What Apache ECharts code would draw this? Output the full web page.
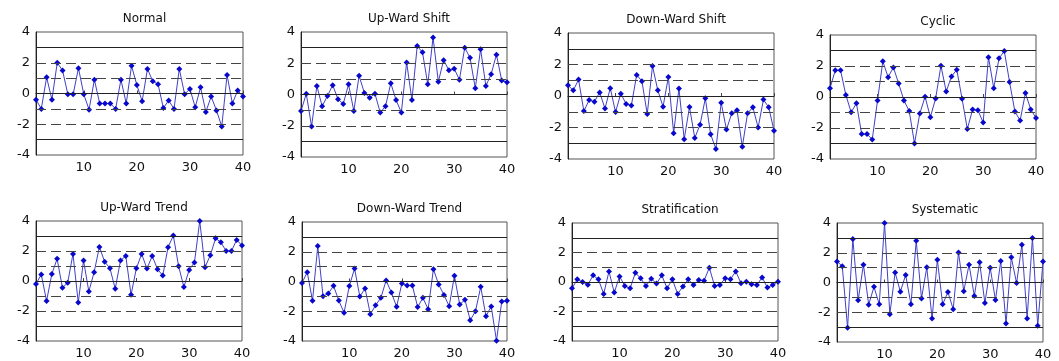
<!DOCTYPE html>
<html>
<head>
<meta charset="utf-8">
<script src="https://cdn.jsdelivr.net/npm/echarts@6/dist/echarts.min.js"></script>
<style>
  html, body { margin: 0; padding: 0; background: #fff; }
  #chart { width: 1059px; height: 361px; }
</style>
</head>
<body>
<div id="chart"></div>
<script>
// sample index 1..40
const samples = [1, 2, 3, 4, 5, 6, 7, 8, 9, 10, 11, 12, 13, 14, 15, 16, 17, 18, 19, 20,
  21, 22, 23, 24, 25, 26, 27, 28, 29, 30, 31, 32, 33, 34, 35, 36, 37, 38, 39, 40];
const xTickLabels = [10, 20, 30, 40];
const solidLines = [3, 0, -3];
const dashedLines = [2, 1, -1, -2];

const titles = ["Normal", "Up-Ward Shift", "Down-Ward Shift", "Cyclic",
  "Up-Ward Trend", "Down-Ward Trend", "Stratification", "Systematic"];

const normal = [-0.4, -1.0, 1.05, -0.4, 2.0, 1.5, -0.05, -0.05, 1.65, -0.05,
  -1.05, 0.9, -0.65, -0.65, -0.65, -1.0, 0.9, -0.65, 1.8, 0.55,
  -0.5, 1.6, 0.8, 0.6, -0.95, -0.45, -1.0, 1.6, -0.05, 0.3,
  -0.9, 0.4, -1.2, -0.2, -1.1, -2.15, 1.2, -0.65, 0.2, -0.2];
const upShift = [-1.06, 0.05, -2.05, 0.55, -0.75, -0.1, 0.6, -0.3, -0.6, 0.65,
  -1.05, 1.2, 0.1, -0.2, 0.05, -1.15, -0.75, 0.72, -0.35, -1.15,
  2.05, -0.35, 3.1, 2.7, 0.65, 3.65, 0.82, 2.2, 1.55, 1.65,
  0.95, 3.0, 2.35, 0.4, 2.9, 0.55, 1.3, 2.55, 0.9, 0.78];
const downShift = [0.68, 0.36, 1.04, -0.96, -0.26, -0.36, 0.23, -0.8, 0.5, -1.02,
  0.15, -0.5, -0.6, 1.34, 0.94, -1.15, 1.9, 0.36, -0.68, 1.2,
  -2.36, 0.47, -2.74, -0.7, -2.66, -1.83, -0.15, -2.43, -3.36, -0.43,
  -2.13, -1.1, -0.9, -3.23, -1.1, -0.72, -2.0, -0.23, -0.72, -2.2];
const cyclic = [0.57, 1.72, 1.72, 0.13, -0.98, -0.41, -2.39, -2.39, -2.74, -0.22,
  2.3, 1.28, 1.91, 0.87, -0.22, -0.91, -3.0, -1.07, 0.02, -1.3,
  -0.09, 2.02, 0.35, 1.33, 1.76, -0.11, -2.07, -0.8, -0.85, -1.65,
  2.57, 0.57, 2.5, 2.96, 0.96, -0.93, -1.52, 0.26, -0.8, -1.35];
const upTrend = [-0.2, 0.43, -1.33, 0.47, 1.48, -0.45, -0.11, 1.8, -1.44, 1.37,
  -0.7, 0.58, 2.27, 1.28, 0.85, -0.52, 1.37, 1.66, -0.92, 0.85,
  1.8, 0.83, 1.66, 0.79, 0.36, 2.25, 3.03, 0.98, -0.4, 0.74,
  1.24, 4.0, 0.92, 1.71, 2.85, 2.58, 2.0, 2.0, 2.74, 2.36];
const downTrend = [-0.1, 0.63, -1.3, 2.38, -0.99, -0.81, -0.29, -1.28, -2.1, -0.31,
  0.87, -1.01, -0.47, -2.2, -1.6, -1.1, 0.07, -0.74, -1.7, -0.13,
  -0.27, -0.27, -1.72, -1.1, -1.86, 0.83, -0.2, -0.9, -1.66, 0.38,
  -1.55, -1.23, -2.6, -2.0, -0.36, -2.33, -1.68, -3.98, -1.35, -1.3];
const stratification = [-0.43, 0.18, 0.0, -0.18, 0.45, 0.18, -0.81, 0.72, -0.72, 0.38,
  -0.27, -0.43, 0.63, 0.25, -0.27, 0.22, -0.11, 0.45, -0.43, 0.18,
  -0.81, -0.31, 0.18, -0.2, 0.13, 0.09, 0.97, -0.27, -0.2, 0.25,
  0.18, 0.72, -0.09, 0.02, -0.16, -0.2, 0.31, -0.38, -0.2, 0.02];
const systematic = [1.42, 1.09, -3.04, 2.93, -1.2, 1.2, -1.49, -0.29, -1.47, 4.0,
  -2.13, 0.67, -0.62, 0.51, -1.47, 2.8, -1.07, 1.02, -2.42, 1.53,
  -1.47, -0.64, -1.8, 2.02, -0.58, 1.2, -0.91, 1.36, -1.38, 1.0,
  -1.18, 1.44, -2.76, 1.69, -0.04, 2.53, -2.42, 3.0, -2.91, 1.42];

const panelData = [normal, upShift, downShift, cyclic, upTrend, downTrend, stratification, systematic];

// plot boxes in pixels: [left, top, width, height]
const boxes = [
  [36, 32, 207, 123], [301, 32, 206, 125], [568, 33, 206, 126], [830, 35, 206, 124],
  [36, 221, 206, 120], [302, 222, 205, 119], [572, 223, 206, 118], [837, 223, 206, 119]
];

const myChart = echarts.init(document.getElementById("chart"));
const font = "DejaVu Sans";

const grid = [], xAxis = [], yAxis = [], series = [], title = [];
boxes.forEach((b, i) => {
  grid.push({
    left: b[0], top: b[1], width: b[2], height: b[3],
    show: true, borderColor: "#555", borderWidth: 1, backgroundColor: "#fff"
  });
  title.push({
    text: titles[i],
    left: b[0] + b[2] / 2,
    top: b[1] - 24,
    textAlign: "center",
    textStyle: { fontFamily: font, fontSize: 12, fontWeight: "normal", color: "#111" }
  });
  xAxis.push({
    type: "category",
    gridIndex: i,
    data: samples,
    boundaryGap: false,
    axisLine: { lineStyle: { color: "#222" } },
    axisTick: {
      inside: true, length: 3, lineStyle: { color: "#444" },
      interval: (idx, v) => xTickLabels.includes(Number(v))
    },
    axisLabel: {
      interval: (idx, v) => xTickLabels.includes(Number(v)),
      color: "#111", fontFamily: font, fontSize: 13, margin: 6
    },
    splitLine: { show: false }
  });
  yAxis.push({
    type: "value",
    gridIndex: i,
    min: -4, max: 4, interval: 2,
    axisLine: { show: true, lineStyle: { color: "#222" } },
    axisTick: { show: false },
    axisLabel: { color: "#111", fontFamily: font, fontSize: 13, margin: 6 },
    splitLine: { show: false }
  });
  const lines = solidLines.map((v) => ({ yAxis: v, lineStyle: { type: "solid", color: "#222", width: 1 } }))
    .concat(dashedLines.map((v) => ({ yAxis: v, lineStyle: { type: [10, 5], color: "#444", width: 1 } })));
  series.push({
    type: "line",
    xAxisIndex: i,
    yAxisIndex: i,
    data: panelData[i],
    symbol: "diamond",
    symbolSize: 6,
    showAllSymbol: true,
    lineStyle: { color: "#4040c8", width: 1 },
    itemStyle: { color: "#0808cc" },
    animation: false,
    markLine: {
      silent: true,
      symbol: "none",
      label: { show: false },
      animation: false,
      data: lines
    },
    z: 3
  });
});

myChart.setOption({
  backgroundColor: "#fff",
  animation: false,
  title, grid, xAxis, yAxis, series
});
</script>
</body>
</html>
